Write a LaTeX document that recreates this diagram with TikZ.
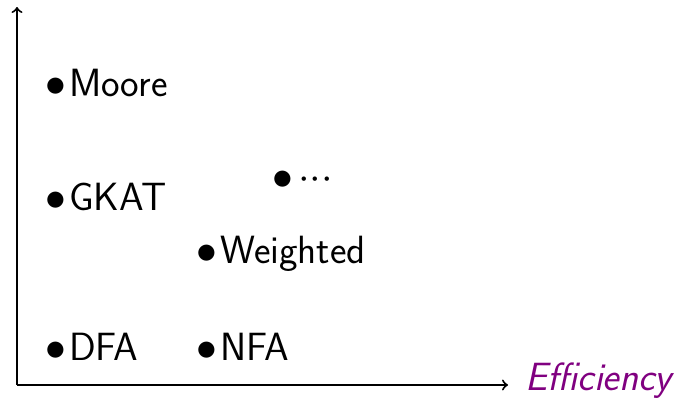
\documentclass[tikz,border=0pt]{standalone}
\usepackage{xcolor}
\definecolor{effpurple}{RGB}{128,0,128}
\newcommand{\pt}[1]{$\bullet$\hspace{1.5pt}#1}
\begin{document}
\begin{tikzpicture}[x=0.5pt,y=-0.5pt,
  item/.style={anchor=base west,inner sep=0pt,font=\sffamily\fontsize{19.7}{23}\selectfont},
  axis/.style={->,line width=1pt}]
\useasboundingbox (0,0) rectangle (676,402);
\coordinate (o) at (17,385);
\coordinate (ytop) at (17,7);
\coordinate (xend) at (508,385);
\draw[axis] (o) -- (ytop);
\draw[axis] (o) -- (xend);
\node[item,text=effpurple,font=\sffamily\itshape\fontsize{19.7}{23}\selectfont] (eff) at (525,390) {Efficiency};
\node[item] (moore) at (45,96) {\pt{Moore}};
\node[item] (gkat) at (45,210) {\pt{GKAT}};
\node[item] (dots) at (272,189) {$\bullet$\hspace{2.5pt}${\cdot}{\cdot}{\cdot}$};
\node[item] (weighted) at (196,263) {\pt{Weighted}};
\node[item] (dfa) at (45,360) {\pt{DFA}};
\node[item] (nfa) at (196,360) {\pt{NFA}};
\end{tikzpicture}
\end{document}
